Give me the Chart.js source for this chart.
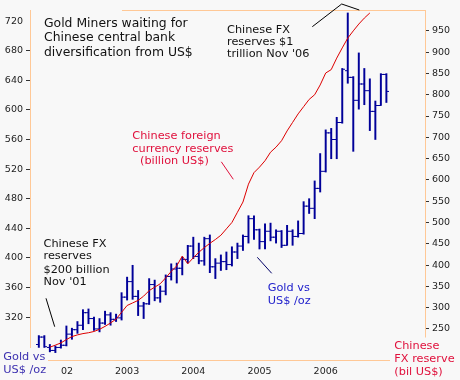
<!DOCTYPE html>
<html>
<head>
<meta charset="utf-8">
<script src="https://cdn.jsdelivr.net/npm/chart.js@4.4.1/dist/chart.umd.min.js"></script>
<style>
html,body{margin:0;padding:0;background:#f8f8f8;}
#wrap{width:460px;height:380px;}
</style>
</head>
<body>
<div id="wrap"><canvas id="c" width="460" height="380"></canvas></div>
<script>
// ---- data (monthly, index 0 = Sep 2001) ----
const goldOpen  = [283,293,279,275,279,282,297,303,309,326,318,304,312,323,317,319,347,368,348,335,338,364,346,355,375,385,386,398,416,402,396,426,388,393,395,391,408,416,429,453,438,422,436,428,436,417,436,429,433,470,467,494,517,569,560,583,653,644,613,635,626,598,606,648];
const goldHigh  = [295,295,283,281,289,308,305,314,330,331,320,318,328,326,324,353,374,390,356,340,372,370,362,377,392,393,401,417,428,420,428,431,399,404,408,415,420,431,457,457,439,446,447,438,437,444,438,450,476,480,504,541,573,575,590,656,731,645,677,656,642,612,649,649];
const goldLow   = [279,279,273,272,278,281,290,298,303,311,302,300,310,309,314,316,343,344,322,318,337,342,340,350,370,366,377,393,399,392,390,380,372,383,384,389,399,410,420,425,412,412,423,420,414,417,417,428,432,460,453,489,516,534,534,582,636,544,601,607,572,560,606,610];
const goldClose = [293,280,275,279,282,297,303,309,326,318,304,312,323,317,319,347,368,348,335,338,364,346,355,375,385,386,398,416,402,396,426,388,393,395,391,408,416,429,453,438,422,436,428,436,417,436,429,433,470,467,494,517,569,560,583,655,644,613,635,626,598,606,648,625];

// Chinese FX reserves (billion US$), monthly from index 2 (Nov 2001)
const reservesStart = 2;
const reserves = [207,212,217,225,232,236,239,241,244,249,256,264,273,289,305,311,317,327,340,348,356,370,385,398,421,403,417,430,441,451,460,470,485,500,524,548,590,617,630,645,665,677,692,715,735,755,772,789,800,823,851,859,886,910,933,950,966,980,992];

// axes ticks
const yearTickIdx = [4,16,28,40,52];
const yearLabels  = ['\u2007\u200702','2003','2004','2005','2006'];
const goldTicks   = [320,360,400,440,480,520,560,600,640,680,720];
const resTicks    = [250,300,350,400,450,500,550,600,650,700,750,800,850,900,950];

// ---- styling ----
const BG = '#f8f8f8';
const FRAME = '#ffc896';
const NAVY = '#000099';
const RED = '#dd0000';
const FONT = 'Verdana, "DejaVu Sans", sans-serif';

function tickCanvas(side){
  const c = document.createElement('canvas');
  c.width = 6; c.height = 3;
  const g = c.getContext('2d');
  g.fillStyle = NAVY;
  g.fillRect(side === 'left' ? 0 : 3, 1, 3, 1);
  return c;
}

const goldIdx = goldOpen.map((_, i) => i);
const rangeData = goldIdx.map(i => ({x: i, y: [goldLow[i], goldHigh[i]]}));
const openData  = goldIdx.map(i => ({x: i, y: goldOpen[i]}));
const closeData = goldIdx.map(i => ({x: i, y: goldClose[i]}));
const resData   = reserves.map((v, i) => ({x: reservesStart + i, y: v}));

const notes = [
  {t:'Gold Miners waiting for', x:44, y:27.3, s:12.4, c:'#111111'},
  {t:'Chinese central bank', x:44, y:41.4, s:12.4, c:'#111111'},
  {t:'diversification from US$', x:44, y:55.5, s:12.4, c:'#111111'},
  {t:'Chinese FX', x:227, y:32.7, s:11.3, c:'#111111'},
  {t:'reserves $1', x:227, y:45, s:11.3, c:'#111111'},
  {t:"trillion Nov '06", x:227, y:57.3, s:11.3, c:'#111111'},
  {t:'Chinese foreign', x:132.3, y:139.2, s:11.3, c:'#e0103c'},
  {t:'currency reserves', x:132.3, y:151.7, s:11.3, c:'#e0103c'},
  {t:'(billion US$)', x:140, y:164.3, s:11.3, c:'#e0103c'},
  {t:'Chinese FX', x:43.5, y:246.7, s:11.3, c:'#111111'},
  {t:'reserves', x:43.5, y:259.3, s:11.3, c:'#111111'},
  {t:'$200 billion', x:43.5, y:272.7, s:11.3, c:'#111111'},
  {t:"Nov '01", x:43.5, y:285.3, s:11.3, c:'#111111'},
  {t:'Gold vs', x:267.7, y:291.3, s:11.3, c:'#2222cc'},
  {t:'US$ /oz', x:267.7, y:304, s:11.3, c:'#2222cc'},
  {t:'Gold vs', x:3.3, y:360, s:11.3, c:'#3c30b0'},
  {t:'US$ /oz', x:3.3, y:372.5, s:11.3, c:'#3c30b0'},
  {t:'Chinese', x:394.3, y:349, s:11.3, c:'#e0103c'},
  {t:'FX reserve', x:394.3, y:361.7, s:11.3, c:'#e0103c'},
  {t:'(bil US$)', x:394.3, y:374.5, s:11.3, c:'#e0103c'}
];
const pointers = [
  {pts:[[312.3,26.7],[341.7,4],[359.3,10]], c:'#000000'},
  {pts:[[46,298.3],[54.7,326.7]], c:'#000000'},
  {pts:[[221.3,161.8],[233.3,179.3]], c:'#e0103c'},
  {pts:[[257.3,257.3],[271.7,273.3]], c:'#000066'}
];
const boxes = [[0,348,48,32],[390,337.5,70,43]];

const bgPlugin = {
  id:'bg',
  beforeDraw(chart){
    const ctx = chart.ctx;
    ctx.save(); ctx.fillStyle = BG; ctx.fillRect(0,0,chart.width,chart.height); ctx.restore();
  }
};
const notesPlugin = {
  id:'notes',
  afterDraw(chart){
    const ctx = chart.ctx, a = chart.chartArea;
    ctx.save();
    ctx.strokeStyle = FRAME; ctx.lineWidth = 1;
    ctx.beginPath(); ctx.moveTo(122, Math.round(a.top)+0.5); ctx.lineTo(a.right+0.5, Math.round(a.top)+0.5); ctx.stroke();
    ctx.fillStyle = BG;
    boxes.forEach(b => ctx.fillRect(b[0], b[1], b[2], b[3]));
    ctx.textAlign = 'left'; ctx.textBaseline = 'alphabetic';
    notes.forEach(n => { ctx.font = n.s + 'px ' + FONT; ctx.fillStyle = n.c; ctx.fillText(n.t, n.x, n.y); });
    pointers.forEach(p => {
      ctx.strokeStyle = p.c; ctx.lineWidth = 1;
      ctx.beginPath(); ctx.moveTo(p.pts[0][0], p.pts[0][1]);
      for (let i = 1; i < p.pts.length; i++) ctx.lineTo(p.pts[i][0], p.pts[i][1]);
      ctx.stroke();
    });
    ctx.restore();
  }
};

new Chart(document.getElementById('c'), {
  type: 'line',
  data: {
    datasets: [
      {type:'line', data: resData, yAxisID:'y2', borderColor: RED, borderWidth: 1, pointRadius: 0, tension: 0, fill: false},
      {type:'line', data: openData, yAxisID:'y', showLine:false, pointStyle: tickCanvas('left'), pointRadius: 3, pointHoverRadius: 3},
      {type:'line', data: closeData, yAxisID:'y', showLine:false, pointStyle: tickCanvas('right'), pointRadius: 3, pointHoverRadius: 3},
      {type:'bar', data: rangeData, yAxisID:'y', backgroundColor: NAVY, borderWidth: 0, barThickness: 1.3}
    ]
  },
  options: {
    responsive: false,
    animation: false,
    devicePixelRatio: 1,
    layout: {padding: {top: 10, left: 0, right: 0, bottom: 0}},
    plugins: {legend: {display: false}, tooltip: {enabled: false}},
    scales: {
      x: {
        type: 'linear', min: -1.6, max: 70, offset: false,
        grid: {display: false, drawTicks: false},
        border: {display: true, color: FRAME},
        afterBuildTicks: s => { s.ticks = yearTickIdx.map(v => ({value: v})); },
        afterFit: s => { s.height = 20; },
        ticks: {
          padding: 6, color: '#222', font: {family: FONT, size: 9.5}, maxRotation: 0, autoSkip: false,
          callback: v => { const k = yearTickIdx.indexOf(v); return k >= 0 ? yearLabels[k] : ''; }
        }
      },
      y: {
        type: 'linear', position: 'left', min: 262, max: 735, beginAtZero: false,
        grid: {drawOnChartArea: false, drawTicks: true, tickLength: 4,
               color: c => (c.tick && c.tick.value === 720) ? 'rgba(0,0,0,0)' : '#333'},
        border: {display: true, color: FRAME},
        afterBuildTicks: s => { s.ticks = goldTicks.map(v => ({value: v})); },
        afterFit: s => { s.width = 30; },
        ticks: {padding: 3, color: '#222', font: {family: FONT, size: 9.5}}
      },
      y2: {
        type: 'linear', position: 'right', min: 177, max: 999, beginAtZero: false,
        grid: {drawOnChartArea: false, drawTicks: true, tickLength: 4, color: '#333'},
        border: {display: true, color: FRAME},
        afterBuildTicks: s => { s.ticks = resTicks.map(v => ({value: v})); },
        afterFit: s => { s.width = 35; },
        ticks: {padding: 3, color: '#222', font: {family: FONT, size: 9.5}}
      }
    }
  },
  plugins: [bgPlugin, notesPlugin]
});
</script>
</body>
</html>
